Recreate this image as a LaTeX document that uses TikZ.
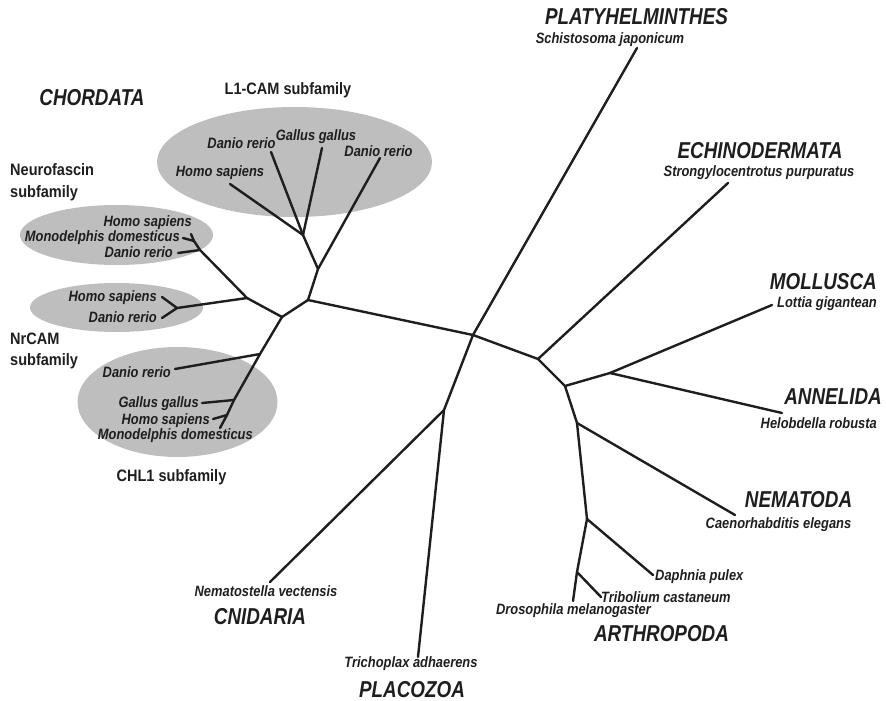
\documentclass[tikz,border=0pt]{standalone}
\usepackage{fontspec}
\setmainfont{Liberation Sans}
\newfontfamily\spbase[FakeStretch=0.86]{Liberation Sans}
\newfontfamily\grbase[FakeStretch=0.82]{Liberation Sans}
\newfontfamily\sbbase[FakeStretch=0.88]{Liberation Sans}
\definecolor{txt}{HTML}{1E1E1E}
\definecolor{ovalc}{RGB}{190,190,190}
\begin{document}
\begin{tikzpicture}[x=1pt,y=-1pt,
  br/.style={line width=2.4pt, draw=txt, line cap=round, line join=round},
  sp/.style={inner sep=0pt, text=txt, font=\spbase\fontsize{15}{17}\selectfont\bfseries\itshape},
  grp/.style={inner sep=0pt, text=txt, font=\grbase\fontsize{23}{25}\selectfont\bfseries\itshape},
  sub/.style={inner sep=0pt, text=txt, font=\sbbase\fontsize{16.5}{18}\selectfont\bfseries},
  oval/.style={fill=ovalc, draw=none}]
\useasboundingbox (0,0) rectangle (886,701);

% ovals
\fill[oval] (294.5,162) ellipse [x radius=137.5pt, y radius=55pt];
\fill[oval] (116.5,235) ellipse [x radius=96.5pt, y radius=30pt];
\fill[oval] (116.5,307.5) ellipse [x radius=86.5pt, y radius=24.5pt];
\fill[oval] (177.5,402) ellipse [x radius=100pt, y radius=55pt];

% internal nodes
\coordinate (C) at (473,335);
\coordinate (P) at (444,410);
\coordinate (R) at (538,359);
\coordinate (N2) at (565,386);
\coordinate (Nml) at (610,373);
\coordinate (N3) at (577,423);
\coordinate (N4) at (587,519);
\coordinate (N5) at (577,572);
\coordinate (Q) at (308,300);
\coordinate (L1) at (318,269);
\coordinate (L1b) at (303,235);
\coordinate (Lf) at (282,317);
\coordinate (NN) at (247,298);
\coordinate (NF) at (200,250);
\coordinate (NFs) at (194,241);
\coordinate (NR) at (177,308);
\coordinate (CH) at (260,354);
\coordinate (CHa) at (234,400);
\coordinate (CHb) at (227,415);

% tips
\coordinate (tPla) at (637,48);
\coordinate (tEch) at (728,183);
\coordinate (tMol) at (772,305);
\coordinate (tAnn) at (782,413);
\coordinate (tNem) at (735,515);
\coordinate (tDap) at (653,575);
\coordinate (tTri) at (601,597);
\coordinate (tDro) at (573,601);
\coordinate (tPlc) at (418,657);
\coordinate (tCni) at (270,582);
\coordinate (tL1dr) at (380,158);
\coordinate (tL1hs) at (230,184);
\coordinate (tL1dl) at (271,152);
\coordinate (tL1gg) at (322,148);
\coordinate (tNFhs) at (191,234);
\coordinate (tNFmd) at (183,238);
\coordinate (tNFdr) at (178,253);
\coordinate (tNRhs) at (162,297);
\coordinate (tNRdr) at (162,318);
\coordinate (tCHdr) at (175,369);
\coordinate (tCHgg) at (202,403);
\coordinate (tCHhs) at (213,419);
\coordinate (tCHmd) at (220,428);

% branches
\draw[br] (Q) -- (C) -- (R);
\draw[br] (tPla) -- (C) -- (P);
\draw[br] (P) -- (tCni);
\draw[br] (P) -- (tPlc);
\draw[br] (R) -- (tEch);
\draw[br] (R) -- (N2) -- (Nml) -- (tMol);
\draw[br] (Nml) -- (tAnn);
\draw[br] (N2) -- (N3) -- (tNem);
\draw[br] (N3) -- (N4) -- (tDap);
\draw[br] (N4) -- (N5) -- (tTri);
\draw[br] (N5) -- (tDro);
\draw[br] (Q) -- (L1) -- (tL1dr);
\draw[br] (L1) -- (L1b) -- (tL1hs);
\draw[br] (L1b) -- (tL1dl);
\draw[br] (L1b) -- (tL1gg);
\draw[br] (Q) -- (Lf) -- (NN) -- (NF) -- (tNFdr);
\draw[br] (NF) -- (NFs) -- (tNFhs);
\draw[br] (NFs) -- (tNFmd);
\draw[br] (NN) -- (NR) -- (tNRhs);
\draw[br] (NR) -- (tNRdr);
\draw[br] (Lf) -- (CH) -- (tCHdr);
\draw[br] (CH) -- (CHa) -- (tCHgg);
\draw[br] (CHa) -- (CHb) -- (tCHhs);
\draw[br] (CHb) -- (tCHmd);

% group labels
\node[grp] (gPla) at (636.5,17) {PLATYHELMINTHES};
\node[sp] (sPla) at (610,40) {Schistosoma japonicum};
\node[grp] (gEch) at (760,151) {ECHINODERMATA};
\node[sp] (sEch) at (759,173) {Strongylocentrotus purpuratus};
\node[grp,anchor=east] (gMol) at (877,282) {MOLLUSCA};
\node[sp,anchor=east] (sMol) at (877,304) {Lottia gigantean};
\node[grp,anchor=east] (gAnn) at (882,397) {ANNELIDA};
\node[sp,anchor=east] (sAnn) at (877,423) {Helobdella robusta};
\node[grp] (gNem) at (798.5,500) {NEMATODA};
\node[sp] (sNem) at (778.5,525) {Caenorhabditis elegans};
\node[sp,anchor=west] (sDap) at (655,577) {Daphnia pulex};
\node[sp,anchor=west] (sTri) at (601,597) {Tribolium castaneum};
\node[sp] (sDro) at (573.5,611) {Drosophila melanogaster};
\node[grp] (gArt) at (661.5,634) {ARTHROPODA};
\node[sp] (sPlc) at (411,664) {Trichoplax adhaerens};
\node[grp] (gPlc) at (412,690) {PLACOZOA};
\node[sp] (sCni) at (266,591) {Nematostella vectensis};
\node[grp] (gCni) at (260,617) {CNIDARIA};
\node[grp] (gCho) at (92,98) {CHORDATA};

% subfamily labels
\node[sub] (lL1) at (288,90) {L1-CAM subfamily};
\node[sub,anchor=west] (lNF1) at (10,170) {Neurofascin};
\node[sub,anchor=west] (lNF2) at (10,193) {subfamily};
\node[sub,anchor=west] (lNR1) at (10,339) {NrCAM};
\node[sub,anchor=west] (lNR2) at (10,361) {subfamily};
\node[sub] (lCH) at (171.5,477) {CHL1 subfamily};

% species in ovals
\node[sp] (a1) at (241.5,143) {Danio rerio};
\node[sp] (a2) at (316,137) {Gallus gallus};
\node[sp] (a3) at (378.5,151) {Danio rerio};
\node[sp] (a4) at (220,173) {Homo sapiens};
\node[sp,anchor=east] (b1) at (192,223) {Homo sapiens};
\node[sp,anchor=east] (b2) at (180,238) {Monodelphis domesticus};
\node[sp,anchor=east] (b3) at (173,252) {Danio rerio};
\node[sp,anchor=east] (c1) at (157,298) {Homo sapiens};
\node[sp,anchor=east] (c2) at (157,317) {Danio rerio};
\node[sp,anchor=east] (d1) at (171,372) {Danio rerio};
\node[sp,anchor=east] (d2) at (199,404) {Gallus gallus};
\node[sp,anchor=east] (d3) at (210,421) {Homo sapiens};
\node[sp,anchor=east] (d4) at (253,436) {Monodelphis domesticus};
\end{tikzpicture}
\end{document}
